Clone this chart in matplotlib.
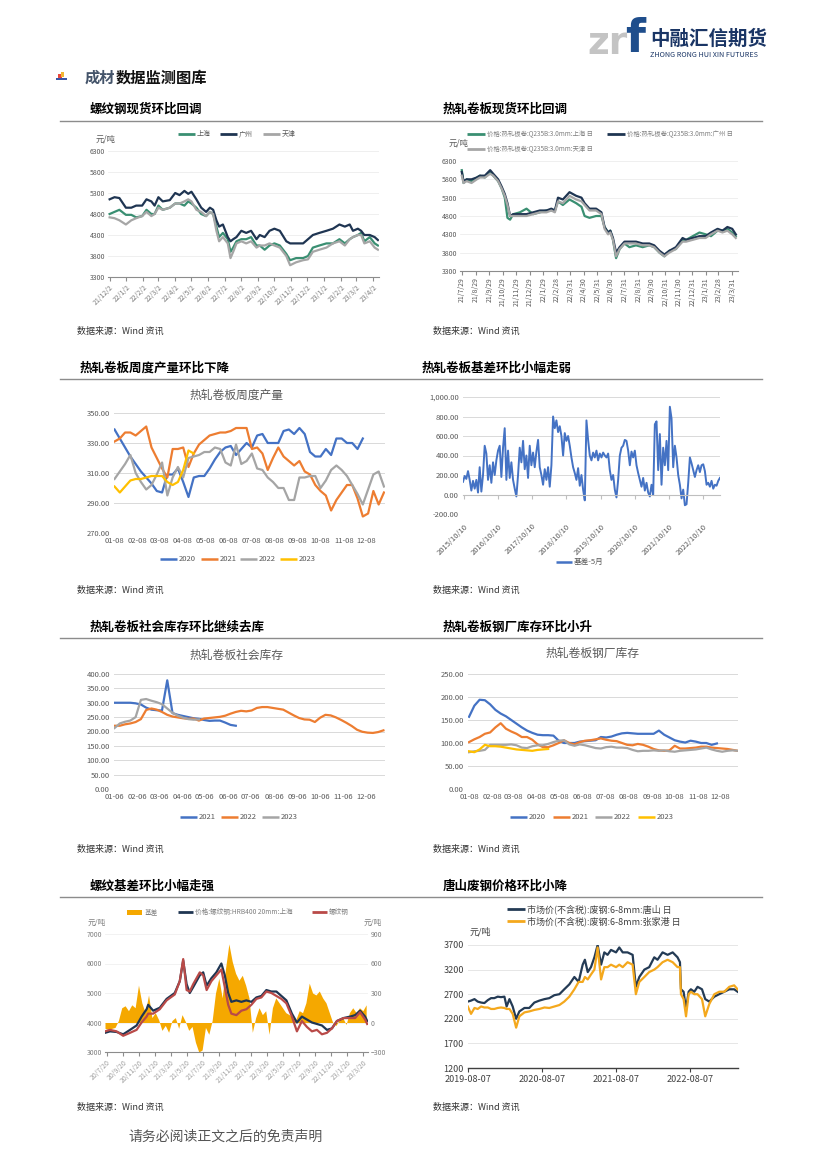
import matplotlib
matplotlib.use('Agg')
import matplotlib.pyplot as plt
from matplotlib.lines import Line2D
from matplotlib.patches import Rectangle
import pandas as pd
import numpy as np

plt.rcParams['font.family'] = ['Noto Sans CJK SC', 'DejaVu Sans']

# ---------------- DATA ----------------
# Chart 1: rebar spot prices
rebar_dates = ['2021-12-02','2021-12-11','2021-12-20','2022-01-01','2022-01-11','2022-01-20','2022-01-31','2022-02-08','2022-02-17','2022-02-23',
               '2022-03-02','2022-03-10','2022-03-23','2022-04-02','2022-04-10','2022-04-19','2022-04-26','2022-05-02','2022-05-11','2022-05-20',
               '2022-05-29','2022-06-05','2022-06-11','2022-06-17','2022-06-22','2022-06-29','2022-07-08','2022-07-13','2022-07-18','2022-07-24',
               '2022-08-02','2022-08-11','2022-08-20','2022-08-30','2022-09-05','2022-09-14','2022-09-23','2022-10-02','2022-10-12','2022-10-24',
               '2022-10-31','2022-11-11','2022-11-24','2022-12-03','2022-12-12','2022-12-24','2023-01-06','2023-01-18','2023-01-30','2023-02-09',
               '2023-02-18','2023-02-24','2023-03-05','2023-03-11','2023-03-17','2023-03-27','2023-04-05','2023-04-11']
rebar_gz = [5150,5200,5180,4950,4950,5000,5000,5150,5100,5000,5200,5100,5130,5300,5250,5350,5280,5330,5150,4950,
            4850,4950,4900,4650,4500,4550,4250,4150,4200,4250,4400,4350,4400,4200,4300,4250,4400,4450,4400,4150,
            4100,4100,4100,4200,4300,4350,4400,4450,4550,4500,4550,4400,4450,4400,4300,4300,4250,4180]
rebar_sh = [4800,4850,4900,4780,4780,4720,4750,4900,4800,4800,5000,4900,4950,5050,5050,5000,5100,5050,4950,4800,
            4750,4850,4800,4500,4250,4350,4200,3900,4000,4150,4200,4200,4250,4050,4050,3950,4050,4100,4050,3850,
            3700,3750,3750,3800,4000,4050,4100,4100,4200,4100,4200,4250,4300,4350,4150,4250,4100,4050]
rebar_tj = [4720,4700,4650,4550,4650,4700,4750,4850,4750,4800,4950,4900,4950,5050,5050,5100,5150,5100,4900,4850,
            4750,4850,4800,4400,4150,4250,4100,3750,3900,4100,4150,4100,4150,4000,4050,4050,4100,4050,4000,3800,
            3580,3650,3700,3720,3900,3950,4000,4100,4150,4050,4200,4250,4300,4300,4100,4150,4000,3950]
rebar_ticks = ['21/12/2','22/1/2','22/2/2','22/3/2','22/4/2','22/5/2','22/6/2','22/7/2','22/8/2','22/9/2',
               '22/10/2','22/11/2','22/12/2','23/1/2','23/2/2','23/3/2','23/4/2']

# Chart 2: HRC spot prices
hrc_dates = ['2021-07-29','2021-08-02','2021-08-09','2021-08-20','2021-09-01','2021-09-08','2021-09-19','2021-10-01','2021-10-08','2021-10-19',
             '2021-10-27','2021-11-03','2021-11-09','2021-11-15','2021-11-22','2021-12-07','2021-12-22','2022-01-06','2022-01-21','2022-02-05',
             '2022-02-16','2022-02-24','2022-03-03','2022-03-14','2022-03-29','2022-04-13','2022-04-25','2022-05-02','2022-05-13','2022-05-28',
             '2022-06-09','2022-06-16','2022-06-24','2022-06-29','2022-07-05','2022-07-12','2022-07-20','2022-07-31','2022-08-11','2022-08-26',
             '2022-09-10','2022-09-25','2022-10-06','2022-10-18','2022-10-29','2022-11-09','2022-11-24','2022-12-09','2022-12-17','2023-01-01',
             '2023-01-16','2023-01-30','2023-02-11','2023-02-26','2023-03-09','2023-03-20','2023-03-31','2023-04-08']
hrc_gz = [6000,5750,5800,5800,5850,5900,5900,6050,5950,5800,5600,5400,5150,4800,4850,4850,4850,4900,4950,4950,
          5000,4950,5300,5250,5450,5350,5300,5150,5000,5000,4900,4500,4350,4400,4200,3800,3950,4100,4100,4100,
          4050,4050,4000,3850,3750,3850,3950,4200,4150,4200,4250,4250,4350,4450,4400,4500,4450,4300]
hrc_sh = [6050,5700,5800,5750,5850,5900,5850,6000,5900,5750,5550,5300,4750,4700,4850,4900,5000,4850,4900,4950,
          4950,4950,5200,5100,5250,5150,5050,4800,4750,4800,4800,4500,4350,4400,4150,3650,3900,4050,3950,4000,
          3950,4000,3950,3800,3700,3850,3900,4150,4150,4250,4350,4300,4250,4400,4400,4450,4350,4250]
hrc_tj = [5900,5700,5750,5700,5800,5850,5850,5950,5900,5750,5550,5350,5100,4800,4800,4800,4800,4850,4900,4900,
          4950,4900,5200,5150,5350,5250,5200,5100,4950,4950,4850,4450,4300,4350,4150,3700,3900,4050,4050,4050,
          4000,4000,3950,3800,3700,3800,3900,4100,4100,4150,4200,4200,4300,4400,4350,4400,4300,4200]
hrc_ticks = ['21/7/29','21/8/29','21/9/29','21/10/29','21/11/29','21/12/29','22/1/29','22/2/28','22/3/31','22/4/30',
             '22/5/31','22/6/30','22/7/31','22/8/31','22/9/30','22/10/31','22/11/30','22/12/31','23/1/31','23/2/28','23/3/31']

# Chart 3: weekly HRC output (by week of year)
prod_2020 = [339,333,327,321,316,311,307,303,298,297,309,309,313,304,294,307,308,308,313,319,
             324,327,328,322,326,330,327,335,336,330,330,330,338,339,336,340,336,324,321,321,
             326,322,333,333,330,330,326,333]
prod_2021 = [331,333,337,337,335,338,341,327,320,313,307,326,326,327,314,323,329,332,335,336,
             337,337,338,340,340,340,326,327,323,312,320,327,321,318,315,318,311,309,302,298,
             295,285,292,297,302,302,293,281,283,298,289,297]
prod_2022 = [306,311,316,322,310,304,299,302,309,317,295,307,314,307,320,321,322,324,324,327,
             326,317,315,329,316,318,323,313,312,307,304,300,300,292,292,307,307,308,308,300,
             305,312,315,312,308,302,296,289,299,309,311,301]
prod_2023 = [301,297,301,305,306,306,307,308,308,308,304,302,304,312,325,323]
prod_ticks = ['01-08','02-08','03-08','04-08','05-08','06-08','07-08','08-08','09-08','10-08','11-08','12-08']

# Chart 4: HRC basis (May contract)
basis_hrc = [130,190,160,240,150,40,140,60,150,20,280,30,200,500,420,150,300,120,330,200,
             350,450,500,180,480,680,150,450,170,330,150,60,-20,200,480,330,550,260,400,170,
             500,300,430,280,440,560,280,200,100,260,150,280,80,300,800,680,760,640,700,600,
             400,630,550,600,500,380,280,220,150,270,90,200,50,-60,760,560,400,350,430,380,
             450,350,420,380,430,400,380,420,250,150,200,50,-30,150,400,480,500,560,550,450,
             300,440,380,450,300,220,150,80,170,40,120,20,-20,100,0,720,750,250,620,100,
             480,300,550,250,900,780,280,500,380,200,100,-40,50,-110,-100,120,380,320,250,180,
             250,300,230,300,310,240,100,120,80,140,60,100,90,140,170]
basis_ticks = ['2015/10/10','2016/10/10','2017/10/10','2018/10/10','2019/10/10','2020/10/10','2021/10/10','2022/10/10']

# Chart 5: HRC social inventory (weekly)
sinv_2021 = [300,300,300,300,298,294,283,276,274,273,378,264,258,254,250,246,244,240,237,238,238,231,223,220]
sinv_2022 = [220,220,225,228,233,243,275,280,276,268,258,252,249,246,244,245,238,245,247,249,
             251,255,262,268,272,270,273,282,285,285,282,279,276,266,256,247,242,241,233,248,
             258,256,249,240,230,219,206,199,196,195,198,204]
sinv_2023 = [212,228,234,238,250,310,313,307,302,295,280,265,255,248,243,241,242]
sinv_ticks = ['01-06','02-06','03-06','04-06','05-06','06-06','07-06','08-06','09-06','10-06','11-06','12-06']

# Chart 6: HRC mill inventory (weekly)
minv_2020 = [157,181,194,193,184,172,164,158,150,142,134,127,122,118,117,117,116,105,100,100,
             100,103,104,105,106,113,112,114,118,121,122,121,120,120,120,120,127,118,112,106,
             103,101,105,103,100,100,96,99]
minv_2021 = [102,108,113,120,123,134,143,131,125,120,113,113,107,97,91,91,95,100,106,100,
             97,102,105,106,108,110,107,105,104,100,96,95,98,96,92,87,84,83,84,94,
             88,88,89,90,92,92,90,89,88,87,85,83]
minv_2022 = [80,82,83,85,96,96,96,96,97,95,90,89,93,95,95,98,102,105,106,97,
             94,97,95,92,89,88,91,92,90,90,89,85,82,83,83,84,83,84,82,81,
             83,84,85,86,88,90,86,83,81,83,84,83]
minv_2023 = [82,80,86,96,93,93,92,90,88,86,85,84,83,85,86,87]
minv_ticks = ['01-08','02-08','03-08','04-08','05-08','06-08','07-08','08-08','09-08','10-08','11-08','12-08']

# Chart 7: rebar basis, spot and futures
rb_dates = ['2020-07-14','2020-08-02','2020-08-27','2020-09-21','2020-10-17','2020-11-11','2020-11-30','2020-12-19','2020-12-25','2021-01-13',
            '2021-02-07','2021-03-05','2021-04-05','2021-04-24','2021-05-07','2021-05-20','2021-06-01','2021-06-14','2021-07-09','2021-07-22',
            '2021-08-04','2021-08-22','2021-09-10','2021-09-29','2021-10-12','2021-10-25','2021-11-06','2021-11-25','2021-12-14','2022-01-02',
            '2022-01-21','2022-02-09','2022-02-28','2022-03-19','2022-04-07','2022-04-26','2022-05-15','2022-06-03','2022-06-24','2022-07-13',
            '2022-08-01','2022-08-20','2022-09-08','2022-09-27','2022-10-16','2022-11-04','2022-11-23','2022-12-12','2023-01-06','2023-01-31',
            '2023-02-19','2023-03-10','2023-03-29','2023-04-06']
rb_spot = [3650,3700,3680,3600,3750,3900,4200,4450,4600,4400,4500,4800,5000,5400,6100,5300,5000,5200,5600,5700,
           5250,5500,5700,6000,5600,5000,4700,4750,4700,4750,4700,4850,4900,5100,5050,5050,4900,4750,4300,4000,
           4200,4100,4000,3950,3900,3750,3800,4050,4150,4200,4250,4400,4200,4050]
rb_fut = [3700,3750,3700,3550,3650,3750,4000,4200,4300,4300,4450,4750,4950,5400,6150,5100,5050,5300,5700,5600,
          5100,5400,5600,5800,5200,4600,4300,4250,4400,4450,4600,4800,4850,5050,5000,4900,4800,4650,4200,3700,
          4050,3850,3700,3750,3600,3650,3800,4050,4150,4150,4150,4350,4100,3950]
rb_basis = [-60,-70,-60,-50,20,150,170,120,180,150,380,200,100,280,50,100,30,-80,-30,-100,
            20,50,-60,80,10,-80,-40,-200,-300,-280,-50,-120,20,300,450,250,550,800,620,500,
            430,480,380,250,-100,50,150,80,120,-120,150,250,200,150,100,80,50,30,120,100,
            200,400,300,280,320,250,200,100,0,-30,30,50,-20,100,150,100,150,120,180]
rb_ticks = ['20/7/20','20/9/20','20/11/20','21/1/20','21/3/20','21/5/20','21/7/20','21/9/20','21/11/20',
            '22/1/20','22/3/20','22/5/20','22/7/20','22/9/20','22/11/20','23/1/20','23/3/20']

# Chart 8: scrap prices
scrap_dates = ['2019-08-04','2019-08-20','2019-09-06','2019-09-22','2019-10-09','2019-10-25','2019-11-11','2019-11-27','2019-12-13','2019-12-30',
               '2020-01-15','2020-02-01','2020-02-12','2020-02-26','2020-03-13','2020-03-30','2020-04-15','2020-05-10','2020-06-03','2020-06-28',
               '2020-07-23','2020-08-17','2020-09-10','2020-10-05','2020-10-30','2020-11-23','2020-12-18','2021-01-12','2021-02-02','2021-02-22',
               '2021-03-05','2021-03-19','2021-04-04','2021-04-21','2021-05-07','2021-05-24','2021-06-09','2021-06-25','2021-07-12','2021-08-06',
               '2021-08-22','2021-09-08','2021-10-02','2021-10-27','2021-11-12','2021-11-29','2021-12-24','2022-01-17','2022-02-11','2022-02-27',
               '2022-03-24','2022-04-18','2022-05-13','2022-06-06','2022-06-18','2022-06-23','2022-07-06','2022-07-18','2022-07-31','2022-08-11',
               '2022-08-28','2022-09-13','2022-10-05','2022-10-21','2022-11-10','2022-12-05','2022-12-29','2023-01-23','2023-02-17','2023-03-13',
               '2023-03-30']
scrap_ts = [2550,2570,2600,2550,2530,2520,2580,2620,2620,2650,2640,2650,2450,2600,2450,2200,2350,2420,2420,2530,
            2570,2600,2620,2680,2700,2800,2900,3050,2950,3300,3400,3150,3250,3450,3700,3300,3550,3500,3600,3550,
            3650,3550,3550,3500,2850,3050,3200,3250,3450,3400,3550,3500,3550,3450,3350,2800,2750,2400,2750,2800,
            2750,2850,2800,2600,2550,2650,2700,2750,2800,2800,2750]
scrap_zjg = [2450,2300,2420,2400,2450,2430,2430,2400,2400,2420,2430,2420,2400,2400,2300,2020,2250,2330,2350,2380,
             2400,2430,2420,2450,2480,2550,2650,2800,2950,2950,3050,3000,3100,3200,3650,3000,3250,3250,3300,3250,
             3300,3250,3350,3300,2700,2950,3050,3150,3200,3250,3350,3400,3350,3250,3250,2700,2600,2250,2700,2750,
             2700,2700,2600,2250,2500,2700,2750,2750,2850,2880,2800]
scrap_ticks = ['2019-08-07','2020-08-07','2021-08-07','2022-08-07']

# ---------------- LAYOUT HELPERS ----------------
W, H = 826, 1169
fig = plt.figure(figsize=(W / 100, H / 100), dpi=100)


def box(x0, y0, x1, y1):
    return fig.add_axes([x0 / W, 1 - y1 / H, (x1 - x0) / W, (y1 - y0) / H])


def ftext(x, y, s, **kw):
    kw.setdefault('va', 'center')
    fig.text(x / W, 1 - y / H, s, **kw)


def fline(x0, x1, y, **kw):
    fig.add_artist(Line2D([x0 / W, x1 / W], [1 - y / H, 1 - y / H], transform=fig.transFigure, **kw))


def frect(x0, y0, x1, y1, color):
    fig.add_artist(Rectangle((x0 / W, 1 - y1 / H), (x1 - x0) / W, (y1 - y0) / H,
                             transform=fig.transFigure, color=color, lw=0))


def leg(x, y, color, label, w=17, lw=1.8, fs=5.5, tc='#595959'):
    fline(x, x + w, y, color=color, lw=lw, solid_capstyle='butt')
    ftext(x + w + 2, y, label, fontsize=fs, color=tc, ha='left')


def excel_style(ax):
    for s in ax.spines.values():
        s.set_visible(False)
    ax.grid(axis='y', color='#d9d9d9', lw=0.7)
    ax.set_axisbelow(True)
    ax.tick_params(length=0, labelsize=5.5, labelcolor='#595959', pad=3)


def wind_style(ax, grid='#ededed'):
    for k in ['top', 'right', 'left']:
        ax.spines[k].set_visible(False)
    ax.spines['bottom'].set_color('#8c8c8c')
    ax.spines['bottom'].set_linewidth(0.8)
    ax.grid(axis='y', color=grid, lw=0.6)
    ax.set_axisbelow(True)
    ax.tick_params(axis='y', length=0, labelsize=5, labelcolor='#595959', pad=2)
    ax.tick_params(axis='x', length=3, color='#8c8c8c', labelsize=5, labelcolor='#7f7f7f', pad=1.5)


BLUE, ORANGE, GRAY, YELLOW = '#4472c4', '#ed7d31', '#a5a5a5', '#ffc000'
GREEN, NAVY, LGRAY = '#3a8f72', '#1f3552', '#a6a6a6'
month_off = np.array([0, 31, 59, 90, 120, 151, 181, 212, 243, 273, 304, 334]) / 7.0

# ---------------- HEADER ----------------
ftext(587, 44, 'zr', fontsize=27, fontweight='bold', color='#c4c4c4', family='DejaVu Sans', ha='left')
ftext(625, 40, 'f', fontsize=33, fontweight='bold', color='#1f4e8c', family='DejaVu Sans', ha='left')
ftext(650, 39, '中融汇信期货', fontsize=14, fontweight='bold', color='#1a3565', ha='left')
ftext(650, 55, 'ZHONG RONG HUI XIN FUTURES', fontsize=5.2, color='#1a3565', ha='left')

frect(58, 74, 62, 78, '#e8463c')
frect(61, 72, 64, 77, '#f2b632')
frect(56, 78, 67, 80, '#3a55a4')
ftext(85, 78, '成材', fontsize=11, fontweight='bold', color='#44546a', ha='left')
ftext(115.5, 78, '数据监测图库', fontsize=11, fontweight='bold', color='#111111', ha='left')

titles = [(90, 109, '螺纹钢现货环比回调'), (443, 109, '热轧卷板现货环比回调'),
          (80, 368, '热轧卷板周度产量环比下降'), (422, 368, '热轧卷板基差环比小幅走弱'),
          (90, 627, '热轧卷板社会库存环比继续去库'), (443, 627, '热轧卷板钢厂库存环比小升'),
          (90, 886, '螺纹基差环比小幅走强'), (443, 886, '唐山废钢价格环比小降')]
for x, y, s in titles:
    ftext(x, y, s, fontsize=9, fontweight='bold', color='#000000', ha='left')
for y in [121, 379, 638, 897]:
    fline(60, 762, y, color='#8c8c8c', lw=1.0)
for x, y in [(77, 331), (433, 331), (77, 590), (433, 590), (77, 849), (433, 849), (77, 1107), (433, 1107)]:
    ftext(x, y, '数据来源：Wind 资讯', fontsize=6.5, color='#333333', ha='left')
ftext(128, 1137, '请务必阅读正文之后的免责声明', fontsize=10, color='#555555', ha='left')

# ---------------- CHART 1 ----------------
ax = box(108, 151, 379, 277)
d = pd.to_datetime(rebar_dates)
ax.plot(d, rebar_sh, color=GREEN, lw=1.6)
ax.plot(d, rebar_gz, color=NAVY, lw=1.6)
ax.plot(d, rebar_tj, color=LGRAY, lw=1.6)
ax.set_ylim(3300, 6300)
ax.set_yticks([3300, 3800, 4300, 4800, 5300, 5800, 6300])
ax.set_xlim(pd.Timestamp('2021-11-29'), pd.Timestamp('2023-04-13'))
ax.set_xticks(pd.to_datetime(rebar_ticks, format='%y/%m/%d'))
ax.set_xticklabels(rebar_ticks, rotation=45, ha='right', rotation_mode='anchor')
wind_style(ax)
leg(178, 134, GREEN, '上海', fs=5, lw=2)
leg(220, 134, NAVY, '广州', fs=5, lw=2)
leg(263, 134, LGRAY, '天津', fs=5, lw=2)
ftext(96, 139, '元/吨', fontsize=6, color='#595959', ha='left')

# ---------------- CHART 2 ----------------
ax = box(460, 161, 738, 271)
d = pd.to_datetime(hrc_dates)
ax.plot(d, hrc_sh, color=GREEN, lw=1.6)
ax.plot(d, hrc_gz, color=NAVY, lw=1.6)
ax.plot(d, hrc_tj, color=LGRAY, lw=1.6)
ax.set_ylim(3300, 6300)
ax.set_yticks([3300, 3800, 4300, 4800, 5300, 5800, 6300])
ax.set_xlim(pd.Timestamp('2021-07-25'), pd.Timestamp('2023-04-13'))
ax.set_xticks(pd.to_datetime(hrc_ticks, format='%y/%m/%d'))
ax.set_xticklabels(hrc_ticks, rotation=90, ha='center', va='top')
wind_style(ax)
ax.tick_params(axis='x', labelcolor='#595959')
leg(467, 134, GREEN, '价格:热轧板卷:Q235B:3.0mm:上海 日', fs=4.6, lw=2, w=18, tc='#7f7f7f')
leg(607, 134, NAVY, '价格:热轧板卷:Q235B:3.0mm:广州 日', fs=4.6, lw=2, w=18, tc='#7f7f7f')
leg(467, 149, LGRAY, '价格:热轧板卷:Q235B:3.0mm:天津 日', fs=4.6, lw=2, w=18, tc='#7f7f7f')
ftext(449, 143, '元/吨', fontsize=6, color='#595959', ha='left')

# ---------------- CHART 3 ----------------
ax = box(114, 413, 385, 533)
ax.plot(range(len(prod_2020)), prod_2020, color=BLUE, lw=1.6)
ax.plot(range(len(prod_2021)), prod_2021, color=ORANGE, lw=1.6)
ax.plot(range(len(prod_2022)), prod_2022, color=GRAY, lw=1.6)
ax.plot(range(len(prod_2023)), prod_2023, color=YELLOW, lw=1.6)
ax.set_ylim(270, 350)
ax.set_yticks([270, 290, 310, 330, 350])
ax.set_yticklabels([f'{v:.2f}' for v in [270, 290, 310, 330, 350]])
ax.set_xlim(-0.1, 51.2)
ax.set_xticks(month_off)
ax.set_xticklabels(prod_ticks)
excel_style(ax)
ftext(237, 395, '热轧卷板周度产量', fontsize=8.5, color='#595959', ha='center')
leg(160, 559, BLUE, '2020')
leg(201, 559, ORANGE, '2021')
leg(240, 559, GRAY, '2022')
leg(280, 559, YELLOW, '2023')

# ---------------- CHART 4 ----------------
ax = box(463, 397, 720, 514)
excel_style(ax)
ax.spines['bottom'].set_visible(True)
ax.spines['bottom'].set_position(('data', 0))
ax.spines['bottom'].set_color('#bfbfbf')
ax.spines['bottom'].set_linewidth(0.8)
d = pd.date_range('2015-09-30', '2023-04-07', periods=len(basis_hrc))
ax.plot(d, basis_hrc, color=BLUE, lw=1.4)
ax.set_ylim(-200, 1000)
yt = [-200, 0, 200, 400, 600, 800, 1000]
ax.set_yticks(yt)
ax.set_yticklabels([f'{v:,.2f}' for v in yt])
ax.set_xlim(pd.Timestamp('2015-09-30'), pd.Timestamp('2023-04-08'))
ax.set_xticks(pd.to_datetime(basis_ticks, format='%Y/%m/%d'))
ax.set_xticklabels(basis_ticks, rotation=45, ha='right', rotation_mode='anchor')
ax.tick_params(axis='x', length=3, color='#bfbfbf', pad=17, labelsize=5.5, labelcolor='#595959')
ax.tick_params(axis='y', length=0, labelsize=5.5, labelcolor='#595959', pad=3)
leg(556, 562, BLUE, '基差-5月', w=16)

# ---------------- CHART 5 ----------------
ax = box(114, 674, 385, 789)
ax.plot(range(len(sinv_2021)), sinv_2021, color=BLUE, lw=1.6)
ax.plot(range(len(sinv_2022)), sinv_2022, color=ORANGE, lw=1.6)
ax.plot(range(len(sinv_2023)), sinv_2023, color=GRAY, lw=1.6)
ax.set_ylim(0, 400)
yt = [0, 50, 100, 150, 200, 250, 300, 350, 400]
ax.set_yticks(yt)
ax.set_yticklabels([f'{v:.2f}' for v in yt])
ax.set_xlim(-0.1, 51.3)
ax.set_xticks(month_off)
ax.set_xticklabels(sinv_ticks)
excel_style(ax)
ftext(237, 655, '热轧卷板社会库存', fontsize=8.5, color='#595959', ha='center')
leg(180, 817, BLUE, '2021')
leg(221, 817, ORANGE, '2022')
leg(262, 817, GRAY, '2023')

# ---------------- CHART 6 ----------------
ax = box(468, 674, 738, 789)
ax.plot(range(len(minv_2020)), minv_2020, color=BLUE, lw=1.6)
ax.plot(range(len(minv_2021)), minv_2021, color=ORANGE, lw=1.6)
ax.plot(range(len(minv_2022)), minv_2022, color=GRAY, lw=1.6)
ax.plot(range(len(minv_2023)), minv_2023, color=YELLOW, lw=1.6)
ax.set_ylim(0, 250)
yt = [0, 50, 100, 150, 200, 250]
ax.set_yticks(yt)
ax.set_yticklabels([f'{v:.2f}' for v in yt])
ax.set_xlim(-0.2, 51)
ax.set_xticks(month_off)
ax.set_xticklabels(minv_ticks)
excel_style(ax)
ftext(592, 653, '热轧卷板钢厂库存', fontsize=8.5, color='#595959', ha='center')
leg(510, 817, BLUE, '2020')
leg(553, 817, ORANGE, '2021')
leg(595, 817, GRAY, '2022')
leg(638, 817, YELLOW, '2023')

# ---------------- CHART 7 ----------------
axb = box(105, 934, 368, 1052)
axp = axb.twinx()
db = pd.date_range('2020-07-14', '2023-04-02', periods=len(rb_basis))
axb.fill_between(db, rb_basis, 0, color='#f5a800', lw=0)
axb.set_ylim(-300, 900)
axb.set_yticks([-300, 0, 300, 600, 900])
axb.yaxis.tick_right()
dp = pd.to_datetime(rb_dates)
axp.plot(dp, rb_spot, color=NAVY, lw=1.6)
axp.plot(dp, rb_fut, color='#b94a48', lw=1.6)
axp.set_ylim(3000, 7000)
axp.set_yticks([3000, 4000, 5000, 6000, 7000])
axp.yaxis.tick_left()
axp.set_xlim(pd.Timestamp('2020-07-14'), pd.Timestamp('2023-04-09'))
axb.set_xlim(pd.Timestamp('2020-07-14'), pd.Timestamp('2023-04-09'))
axb.set_xticks(pd.to_datetime(rb_ticks, format='%y/%m/%d'))
axb.set_xticklabels(rb_ticks, rotation=45, ha='right', rotation_mode='anchor')
wind_style(axb, grid='#f0f0f0')
for k in ['top', 'right', 'left', 'bottom']:
    axp.spines[k].set_visible(False)
axp.tick_params(axis='y', length=0, labelsize=5, labelcolor='#7f7f7f', pad=2)
axb.tick_params(axis='y', length=0, labelsize=5, labelcolor='#7f7f7f', pad=2)
axb.tick_params(axis='x', labelcolor='#a0a0a0')
frect(127, 910, 142, 915, '#f5a800')
ftext(145, 912, '基差', fontsize=4.8, color='#7f7f7f', ha='left')
leg(178, 912, NAVY, '价格:螺纹钢:HRB400 20mm:上海', w=15, lw=2, fs=4.8, tc='#7f7f7f')
leg(312, 912, '#b94a48', '螺纹钢', w=15, lw=2, fs=4.8, tc='#7f7f7f')
ftext(88, 923, '元/吨', fontsize=5.5, color='#7f7f7f', ha='left')
ftext(364, 923, '元/吨', fontsize=5.5, color='#7f7f7f', ha='left')

# ---------------- CHART 8 ----------------
ax = box(468, 945, 738, 1068)
d = pd.to_datetime(scrap_dates)
ax.plot(d, scrap_ts, color='#243b55', lw=1.6)
ax.plot(d, scrap_zjg, color='#f4a81d', lw=1.6)
ax.set_ylim(1200, 3700)
ax.set_yticks([1200, 1700, 2200, 2700, 3200, 3700])
ax.set_xlim(pd.Timestamp('2019-08-05'), pd.Timestamp('2023-04-01'))
ax.set_xticks(pd.to_datetime(scrap_ticks))
ax.set_xticklabels(scrap_ticks)
for k in ['top', 'right', 'left']:
    ax.spines[k].set_visible(False)
ax.spines['bottom'].set_color('#404040')
ax.spines['bottom'].set_linewidth(1.0)
ax.grid(axis='y', color='#e6e6e6', lw=0.7)
ax.set_axisbelow(True)
ax.tick_params(axis='y', length=0, labelsize=6.5, labelcolor='#404040', pad=3)
ax.tick_params(axis='x', length=3, color='#404040', labelsize=6.5, labelcolor='#404040', pad=2)
leg(507, 909, '#243b55', '市场价(不含税):废钢:6-8mm:唐山 日', w=18, lw=2, fs=6.5, tc='#404040')
leg(507, 921, '#f4a81d', '市场价(不含税):废钢:6-8mm:张家港 日', w=18, lw=2, fs=6.5, tc='#404040')
ftext(470, 932, '元/吨', fontsize=6.5, color='#404040', ha='left')

fig.savefig('out.png', dpi=100)
